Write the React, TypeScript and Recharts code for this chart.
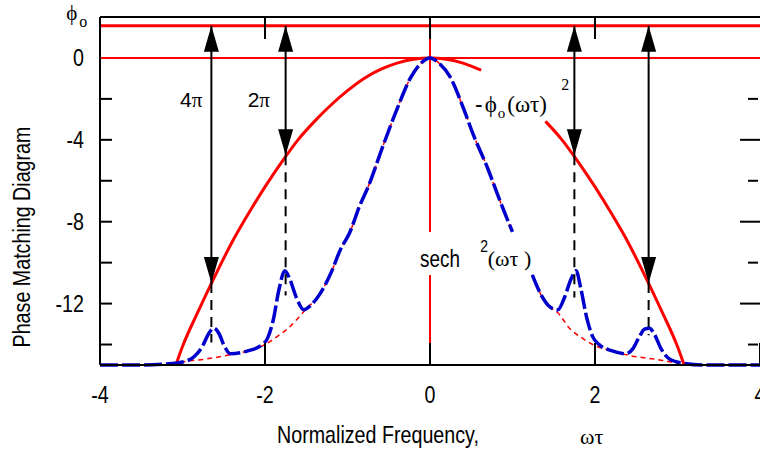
import { LineChart, Line, XAxis, YAxis, ReferenceLine, ReferenceDot } from 'recharts'

type Row = [number, number | null]

const xTicks = [-4, -2, 0, 2, 4]
const xInnerTicks = [-2, 0, 2]
const yTicks = [0, -4, -8, -12]
const yLeftMarks = [-2, -4, -6, -8, -10, -12, -14]
const yRightMajor = [-4, -8, -12]
const yRightMinor = [-2, -6, -10, -14]
const phiO = 1.57

// blue spectrum with sidebands
const spectrumRows: Row[] = [
  [-4, -15], [-3.5, -15], [-3.2, -14.95], [-3.0, -14.85], [-2.86, -14.6], [-2.76, -14.1],
  [-2.68, -13.45], [-2.62, -13.2], [-2.56, -13.45], [-2.49, -14.1], [-2.42, -14.45], [-2.2, -14.3],
  [-2.05, -14.05], [-1.97, -13.7], [-1.9, -12.8], [-1.83, -11.3], [-1.76, -10.4], [-1.7, -10.8],
  [-1.62, -11.7], [-1.53, -12.3], [-1.45, -12.1], [-1.33, -11.5], [-1.2, -10.5], [-1.09, -9.4],
  [-0.97, -8.5], [-0.85, -7.2], [-0.75, -6.3], [-0.57, -4.3], [-0.4, -2.5], [-0.24, -1.0],
  [-0.12, -0.3], [0, 0], [0.12, -0.3], [0.24, -0.9], [0.4, -2.4], [0.52, -3.7], [0.7, -5.4],
  [0.85, -7.0], [1.0, -8.5], [1.1, null], [1.24, -10.6], [1.35, -11.6], [1.45, -12.15],
  [1.55, -12.3], [1.63, -11.7], [1.71, -10.8], [1.77, -10.4], [1.83, -11.3], [1.9, -12.7],
  [1.97, -13.6], [2.05, -14.0], [2.2, -14.3], [2.38, -14.45], [2.46, -14.2], [2.54, -13.6],
  [2.6, -13.25], [2.66, -13.2], [2.72, -13.5], [2.8, -14.2], [2.9, -14.7], [3.05, -14.9],
  [3.3, -15], [4, -15],
]

// thin red dashed sech^2 envelope
const sechRows: Row[] = [
  [-4, -15], [-3.1, -15], [-3.04, -14.9], [-2.7, -14.7], [-2.42, -14.5], [-2.2, -14.3],
  [-2.0, -14.0], [-1.85, -13.6], [-1.69, -13.1], [-1.51, -12.3], [-1.33, -11.5], [-1.2, -10.5],
  [-1.09, -9.4], [-0.97, -8.5], [-0.85, -7.2], [-0.75, -6.3], [-0.57, -4.3], [-0.4, -2.5],
  [-0.24, -1.0], [-0.12, -0.3], [0, 0], [0.12, -0.3], [0.24, -0.9], [0.4, -2.4], [0.52, -3.7],
  [0.7, -5.4], [0.85, -7.0], [1.0, -8.5], [1.1, null], [1.24, -10.6], [1.35, -11.6],
  [1.45, -12.15], [1.55, -12.45], [1.69, -13.2], [1.85, -13.7], [1.97, -14.0], [2.2, -14.3],
  [2.38, -14.5], [2.86, -14.8], [3.1, -15], [4, -15],
]

// red phase parabola, split by the -phi_o(wt)^2 label
const phaseLeftRows: Row[] = [
  [-3.08, -15], [-3.0, -14.1], [-2.8, -12.3], [-2.6, -10.6], [-2.4, -9.0], [-2.2, -7.6],
  [-2.0, -6.3], [-1.8, -5.1], [-1.6, -4.0], [-1.4, -3.1], [-1.2, -2.3], [-1.0, -1.6],
  [-0.8, -1.0], [-0.6, -0.56], [-0.4, -0.25], [-0.2, -0.06], [0, 0], [0.2, -0.06],
  [0.4, -0.25], [0.62, -0.6],
]
const phaseRightRows: Row[] = [
  [1.4, -3.1], [1.6, -4.0], [1.8, -5.1], [2.0, -6.3], [2.2, -7.6], [2.4, -9.0], [2.6, -10.6],
  [2.8, -12.3], [3.0, -14.1], [3.08, -15],
]

// phase-matching arrows: x, arrow tip on the parabola, end of dashed drop
const arrows = [
  { x: -2.65, tip: -11.0, drop: -13.9 },
  { x: -1.75, tip: -4.75, drop: -11.6 },
  { x: 1.75, tip: -4.75, drop: -11.7 },
  { x: 2.65, tip: -11.0, drop: -13.55 },
]

const toPts = (rows: Row[]) => rows.map(([x, y]) => ({ x, y }))
const spectrum = toPts(spectrumRows)
const sech = toPts(sechRows)
const phaseLeft = toPts(phaseLeftRows)
const phaseRight = toPts(phaseRightRows)

const SANS = '"Liberation Sans", Arial, sans-serif'
const SERIF = '"Liberation Serif", "Times New Roman", "DejaVu Serif", serif'
const RED = '#ff0000'
const BLUE = '#0000cc'

const Narrow = ({ x, y, anchor = 'start', size = 24, rotate = 0, baseline, children }: any) => (
  <text
    transform={`translate(${x},${y}) rotate(${rotate}) scale(0.82,1)`}
    textAnchor={anchor}
    dominantBaseline={baseline}
    fontFamily={SANS}
    fontSize={size}
    fill="#000"
  >
    {children}
  </text>
)

const XTick = (p: any) => (
  <Narrow x={p.x} y={p.y} anchor="middle" baseline="central">{p.payload.value}</Narrow>
)
const YTick = (p: any) => (
  <Narrow x={p.x} y={p.y} anchor="end" baseline="central">{p.payload.value}</Narrow>
)
const NoTick = () => <g />

const XTitle = (p: any) => {
  const vb = p.viewBox
  return (
    <g>
      <Narrow x={vb.x + 177} y={vb.y + 78}>Normalized Frequency,</Narrow>
      <text x={vb.x + 480} y={vb.y + 79} fontFamily={SERIF} fontSize={22} fill="#000">ωτ</text>
    </g>
  )
}
const YTitle = (p: any) => {
  const vb = p.viewBox
  return <Narrow x={vb.x + 30} y={vb.y + 220} anchor="middle" rotate={-90}>Phase Matching Diagram</Narrow>
}

const Head = ({ cx, cy, dir }: { cx: number; cy: number; dir: number }) => (
  <polygon points={`${cx},${cy} ${cx - 7.5},${cy + dir * 26} ${cx + 7.5},${cy + dir * 26}`} fill="#000" />
)

const axisStroke = { stroke: '#000', strokeWidth: 2 }

export default function App() {
  return (
    <div style={{ position: 'absolute', left: 0, top: 0, width: 760, height: 453, overflow: 'hidden', background: '#fff' }}>
      <LineChart width={760} height={453} margin={{ top: 0, right: 0, bottom: 0, left: 0 }}>
        <XAxis
          dataKey="x"
          type="number"
          domain={[-4, 4]}
          ticks={xTicks}
          interval={0}
          height={88}
          tickLine={axisStroke}
          tickSize={-22}
          tickMargin={52}
          axisLine={axisStroke}
          tick={XTick}
          label={XTitle}
        />
        <XAxis xAxisId="top" dataKey="x" type="number" domain={[-4, 4]} allowDataOverflow ticks={xInnerTicks} interval={0} orientation="top" height={17} tickSize={-22} tickMargin={0} tick={NoTick} tickLine={axisStroke} axisLine={axisStroke} />
        <YAxis
          type="number"
          domain={[-15, 2]}
          ticks={yTicks}
          width={100}
          tickLine={false}
          tickSize={0}
          tickMargin={16}
          axisLine={axisStroke}
          tick={YTick}
          label={YTitle}
        />
        <YAxis yAxisId="lm" type="number" domain={[-15, 2]} allowDataOverflow ticks={yLeftMarks} interval={0} mirror width={2} tickSize={12} tick={NoTick} tickLine={axisStroke} axisLine={false} />
        <YAxis yAxisId="rmaj" type="number" domain={[-15, 2]} allowDataOverflow ticks={yRightMajor} interval={0} orientation="right" mirror width={2} tickSize={20} tick={NoTick} tickLine={axisStroke} axisLine={false} />
        <YAxis yAxisId="rmin" type="number" domain={[-15, 2]} allowDataOverflow ticks={yRightMinor} interval={0} orientation="right" mirror width={2} tickSize={10} tick={NoTick} tickLine={axisStroke} axisLine={false} />

        <ReferenceLine y={0} stroke={RED} strokeWidth={2} />
        <ReferenceLine y={phiO} stroke={RED} strokeWidth={3} />
        <ReferenceLine segment={[{ x: 0, y: 2 }, { x: 0, y: -8.5 }]} stroke={RED} strokeWidth={2} />
        <ReferenceLine segment={[{ x: 0, y: -10.6 }, { x: 0, y: -15 }]} stroke={RED} strokeWidth={2} />

        <Line data={phaseLeft} dataKey="y" type="monotone" stroke={RED} strokeWidth={3} dot={false} isAnimationActive={false} />
        <Line data={phaseRight} dataKey="y" type="monotone" stroke={RED} strokeWidth={3} dot={false} isAnimationActive={false} />
        <Line data={sech} dataKey="y" type="monotone" stroke={RED} strokeWidth={1.5} strokeDasharray="5 4" dot={false} isAnimationActive={false} />
        <Line data={spectrum} dataKey="y" type="monotone" stroke={BLUE} strokeWidth={3.5} strokeDasharray="18 4" dot={false} isAnimationActive={false} />

        {arrows.map((a) => (
          <ReferenceLine key={`s${a.x}`} segment={[{ x: a.x, y: phiO }, { x: a.x, y: a.tip }]} stroke="#000" strokeWidth={2} />
        ))}
        {arrows.map((a) => (
          <ReferenceLine key={`d${a.x}`} segment={[{ x: a.x, y: a.tip }, { x: a.x, y: a.drop }]} stroke="#000" strokeWidth={2} strokeDasharray="10 7" />
        ))}
        {arrows.map((a) => (
          <ReferenceDot key={`u${a.x}`} x={a.x} y={phiO} ifOverflow="visible" shape={(p: any) => <Head cx={p.cx} cy={p.cy} dir={1} />} />
        ))}
        {arrows.map((a) => (
          <ReferenceDot key={`t${a.x}`} x={a.x} y={a.tip} ifOverflow="visible" shape={(p: any) => <Head cx={p.cx} cy={p.cy} dir={-1} />} />
        ))}

        <ReferenceDot x={-4.41} y={1.85} ifOverflow="visible" shape={(p: any) => (
          <text x={p.cx} y={p.cy} fontFamily={SERIF} fontSize={21} fill="#000">
            ϕ<tspan fontSize={16} dx={2} dy={7}>o</tspan>
          </text>
        )} />
        <ReferenceDot x={-3.03} y={-2.4} ifOverflow="visible" shape={(p: any) => (
          <text x={p.cx} y={p.cy} fontSize={21} fill="#000">
            <tspan fontFamily={SANS}>4</tspan><tspan fontFamily={SERIF}>π</tspan>
          </text>
        )} />
        <ReferenceDot x={-2.21} y={-2.4} ifOverflow="visible" shape={(p: any) => (
          <text x={p.cx} y={p.cy} fontSize={21} fill="#000">
            <tspan fontFamily={SANS}>2</tspan><tspan fontFamily={SERIF}>π</tspan>
          </text>
        )} />
        <ReferenceDot x={0.545} y={-2.64} ifOverflow="visible" shape={(p: any) => (
          <text x={p.cx} y={p.cy} fontFamily={SERIF} fontSize={23} fill="#000">
            <tspan fontFamily={SANS}>-</tspan>
            <tspan dx={2}>ϕ</tspan>
            <tspan fontSize={15} dx={1} dy={6}>o</tspan>
            <tspan dx={2} dy={-6}>(ωτ)</tspan>
          </text>
        )} />
        <ReferenceDot x={1.59} y={-1.57} ifOverflow="visible" shape={(p: any) => (
          <text x={p.cx} y={p.cy} fontFamily={SERIF} fontSize={16} fill="#000">2</text>
        )} />
        <ReferenceDot x={-0.12} y={-10.21} ifOverflow="visible" shape={(p: any) => (
          <Narrow x={p.cx} y={p.cy} size={23}>sech</Narrow>
        )} />
        <ReferenceDot x={0.61} y={-9.48} ifOverflow="visible" shape={(p: any) => (
          <Narrow x={p.cx} y={p.cy} size={17}>2</Narrow>
        )} />
        <ReferenceDot x={0.7} y={-10.15} ifOverflow="visible" shape={(p: any) => (
          <text x={p.cx} y={p.cy} fontFamily={SERIF} fontSize={22} fill="#000">(ωτ )</text>
        )} />
      </LineChart>
    </div>
  )
}
